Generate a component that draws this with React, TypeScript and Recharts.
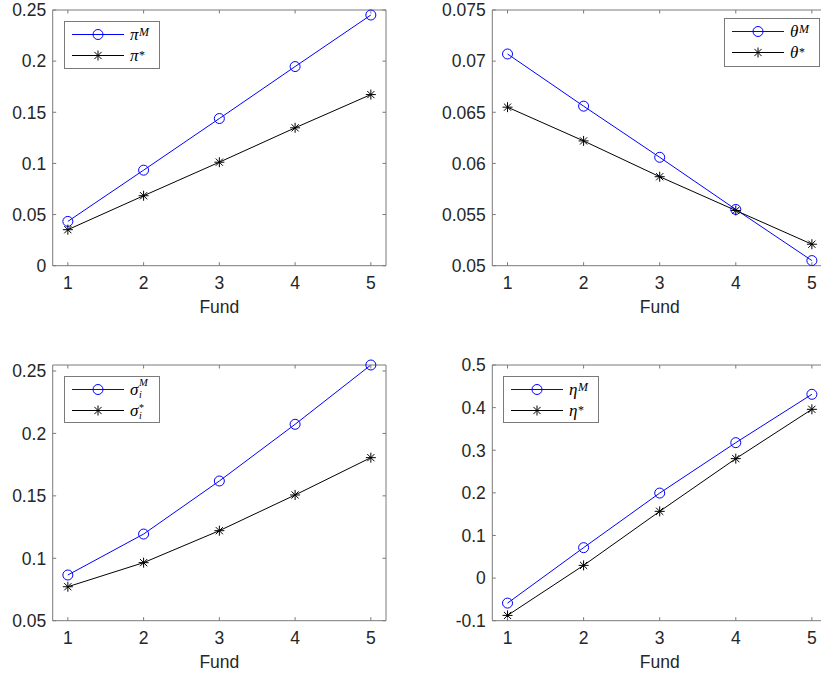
import React from 'react';
import { LineChart, Line, XAxis, YAxis, Legend, Label } from 'recharts';

// Fund index on the x axis
const funds = [1, 2, 3, 4, 5];
const fundTicks = [1, 2, 3, 4, 5];

// Investment proportion
const piM = [0.0433, 0.0934, 0.1439, 0.1947, 0.2451];
const piStar = [0.0352, 0.0684, 0.1012, 0.1348, 0.1673];
// Theta
const thetaM = [0.0707, 0.0656, 0.0606, 0.0555, 0.0505];
const thetaStar = [0.0655, 0.0622, 0.0587, 0.0554, 0.0521];
// Volatility
const sigmaM = [0.0866, 0.1194, 0.1619, 0.2073, 0.2548];
const sigmaStar = [0.0772, 0.0965, 0.1221, 0.1507, 0.1806];
// Eta
const etaM = [-0.0587, 0.0714, 0.1995, 0.3178, 0.4312];
const etaStar = [-0.0876, 0.0298, 0.1566, 0.2803, 0.396];

// Y tick values per panel
const piTicks = [0, 0.05, 0.1, 0.15, 0.2, 0.25];
const thetaTicks = [0.05, 0.055, 0.06, 0.065, 0.07, 0.075];
const sigmaTicks = [0.05, 0.1, 0.15, 0.2, 0.25];
const etaTicks = [-0.1, 0, 0.1, 0.2, 0.3, 0.4, 0.5];

const TEXT = '#262626';
const BOX = '#7a7a7a';
const BLUE = '#0000ff';
const BLACK = '#000000';
const FONT = '"Liberation Sans", Arial, Helvetica, sans-serif';
const SERIF = '"Liberation Serif", "DejaVu Serif", serif';
const FS = 17.5;
const TICK_LEN = 3.5;
// axes take 1px of room; margins below are reduced by that much
const AX = 1;

const fmt = (v: number) => String(parseFloat(Number(v).toFixed(4)));

const toRows = (m: number[], s: number[]) =>
  funds.map((f, i) => ({ fund: f, m: m[i], s: s[i] }));

function BottomTick(props: any) {
  const { x, y, payload } = props;
  return (
    <g>
      <line x1={x} x2={x} y1={y} y2={y - TICK_LEN} stroke={BOX} />
      <text x={x} y={y + 23} textAnchor="middle" fill={TEXT} fontSize={FS} fontFamily={FONT}>
        {fmt(payload.value)}
      </text>
    </g>
  );
}

function TopTick(props: any) {
  const { x, y } = props;
  return <line x1={x} x2={x} y1={y} y2={y + TICK_LEN} stroke={BOX} />;
}

function LeftTick(props: any) {
  const { x, y, payload } = props;
  return (
    <g>
      <line x1={x} x2={x + TICK_LEN} y1={y} y2={y} stroke={BOX} />
      <text x={x - 6.5} y={y} dy="0.36em" textAnchor="end" fill={TEXT} fontSize={FS} fontFamily={FONT}>
        {fmt(payload.value)}
      </text>
    </g>
  );
}

function RightTick(props: any) {
  const { x, y } = props;
  return <line x1={x} x2={x - TICK_LEN} y1={y} y2={y} stroke={BOX} />;
}

function CircleMark({ cx, cy }: { cx: number; cy: number }) {
  return <circle cx={cx} cy={cy} r={5} fill="none" stroke={BLUE} strokeWidth={1} />;
}

function StarMark({ cx, cy }: { cx: number; cy: number }) {
  const a = 5;
  const d = 3.6;
  return (
    <g stroke={BLACK} strokeWidth={1}>
      <line x1={cx - a} x2={cx + a} y1={cy} y2={cy} />
      <line x1={cx} x2={cx} y1={cy - a} y2={cy + a} />
      <line x1={cx - d} x2={cx + d} y1={cy - d} y2={cy + d} />
      <line x1={cx - d} x2={cx + d} y1={cy + d} y2={cy - d} />
    </g>
  );
}

const renderCircle = (p: any) => <CircleMark key={`c-${p.index}`} cx={p.cx} cy={p.cy} />;
const renderStar = (p: any) => <StarMark key={`s-${p.index}`} cx={p.cx} cy={p.cy} />;

// Legend math label: symbol with a superscript and an optional stacked subscript,
// written as one text element
function MathLabel({ x, y, symbol, sup, sub }: { x: number; y: number; symbol: string; sup: string; sub?: string }) {
  const w = 9;
  const isStar = sup === '*';
  const baseY = y + 5.5;
  let supY = y + (isStar ? 3 : 1);
  if (sub) supY = y + (isStar ? 0.5 : -3.5);
  let supSize = 12;
  if (sub) supSize = isStar ? 10 : 10.5;
  return (
    <text x={x} y={baseY} fill={BLACK} fontFamily={SERIF} fontSize={17} fontStyle="italic">
      {symbol}
      {sub ? (
        <tspan x={x + w} y={y + 8} fontSize={10}>
          {sub}
        </tspan>
      ) : null}
      <tspan x={x + w} y={supY} fontSize={supSize} fontStyle={isStar ? 'normal' : 'italic'}>
        {sup}
      </tspan>
    </text>
  );
}

function LegendBox({ w, h, symbol, sub }: { w: number; h: number; symbol: string; sub?: string }) {
  const rows = [
    { y: 13.5, color: BLUE, kind: 'circle', sup: 'M' },
    { y: 34.5, color: BLACK, kind: 'star', sup: '*' },
  ];
  return (
    <svg width={w} height={h} style={{ display: 'block' }}>
      <rect x={0.5} y={0.5} width={w - 1} height={h - 1} fill="#ffffff" stroke={BOX} />
      {rows.map((r) => (
        <g key={r.sup}>
          <line x1={8} x2={60} y1={r.y} y2={r.y} stroke={r.color} strokeWidth={1} />
          {r.kind === 'circle' ? <CircleMark cx={34} cy={r.y} /> : <StarMark cx={34} cy={r.y} />}
          <MathLabel x={66} y={r.y} symbol={symbol} sup={r.sup} sub={sub} />
        </g>
      ))}
    </svg>
  );
}

type PanelProps = {
  left: number;
  top: number;
  width: number;
  height: number;
  plot: { top: number; right: number; bottom: number; left: number };
  data: { fund: number; m: number; s: number }[];
  yDomain: [number, number];
  yTicks: number[];
  symbol: string;
  sub?: string;
  legend: { left: number; top: number; w: number; h: number };
};

function Panel(p: PanelProps) {
  const margin = {
    top: p.plot.top - AX,
    right: p.plot.right - AX,
    bottom: p.plot.bottom - AX,
    left: p.plot.left - AX,
  };
  return (
    <div style={{ position: 'absolute', left: p.left, top: p.top }}>
      <LineChart width={p.width} height={p.height} data={p.data} margin={margin}>
        <XAxis
          xAxisId="b"
          dataKey="fund"
          type="number"
          domain={[0.8, 5.2]}
          ticks={fundTicks}
          interval={0}
          height={AX}
          tickSize={0}
          tickMargin={0}
          tickLine={false}
          axisLine={{ stroke: BOX }}
          tick={BottomTick}
        >
          <Label value="Fund" position="bottom" offset={34} fill={TEXT} fontSize={FS} fontFamily={FONT} />
        </XAxis>
        <XAxis
          xAxisId="t"
          orientation="top"
          dataKey="fund"
          type="number"
          domain={[0.8, 5.2]}
          ticks={fundTicks}
          interval={0}
          height={AX}
          tickSize={0}
          tickMargin={0}
          tickLine={false}
          axisLine={{ stroke: BOX }}
          tick={TopTick}
          allowDataOverflow
        />
        <YAxis
          yAxisId="l"
          type="number"
          domain={p.yDomain}
          ticks={p.yTicks}
          interval={0}
          width={AX}
          tickSize={0}
          tickMargin={0}
          tickLine={false}
          axisLine={{ stroke: BOX }}
          tick={LeftTick}
        />
        <YAxis
          yAxisId="r"
          orientation="right"
          dataKey="m"
          type="number"
          domain={p.yDomain}
          ticks={p.yTicks}
          interval={0}
          width={AX}
          tickSize={0}
          tickMargin={0}
          tickLine={false}
          axisLine={{ stroke: BOX }}
          tick={RightTick}
          allowDataOverflow
        />
        <Line
          xAxisId="b"
          yAxisId="l"
          type="linear"
          dataKey="m"
          stroke={BLUE}
          strokeWidth={1}
          dot={renderCircle}
          activeDot={false}
          isAnimationActive={false}
        />
        <Line
          xAxisId="b"
          yAxisId="l"
          type="linear"
          dataKey="s"
          stroke={BLACK}
          strokeWidth={1}
          dot={renderStar}
          activeDot={false}
          isAnimationActive={false}
        />
        <Legend
          layout="vertical"
          align="center"
          verticalAlign="middle"
          wrapperStyle={{ left: p.legend.left, top: p.legend.top, width: p.legend.w, height: p.legend.h }}
          content={() => <LegendBox w={p.legend.w} h={p.legend.h} symbol={p.symbol} sub={p.sub} />}
        />
      </LineChart>
    </div>
  );
}

export default function App() {
  return (
    <div
      style={{
        position: 'absolute',
        left: 0,
        top: 0,
        width: 821,
        height: 677,
        overflow: 'hidden',
        background: '#ffffff',
      }}
    >
      <Panel
        left={0}
        top={0}
        width={410}
        height={340}
        plot={{ top: 10, left: 52.7, right: 24, bottom: 74.3 }}
        data={toRows(piM, piStar)}
        yDomain={[0, 0.25]}
        yTicks={piTicks}
        symbol="π"
        legend={{ left: 64, top: 21, w: 96, h: 48 }}
      />
      <Panel
        left={420}
        top={0}
        width={420}
        height={340}
        plot={{ top: 10, left: 72.3, right: 12.9, bottom: 74.3 }}
        data={toRows(thetaM, thetaStar)}
        yDomain={[0.05, 0.075]}
        yTicks={thetaTicks}
        symbol="θ"
        legend={{ left: 304, top: 18, w: 96, h: 49 }}
      />
      <Panel
        left={0}
        top={345}
        width={410}
        height={332}
        plot={{ top: 20, left: 52.7, right: 24, bottom: 56.3 }}
        data={toRows(sigmaM, sigmaStar)}
        yDomain={[0.05, 0.2548]}
        yTicks={sigmaTicks}
        symbol="σ"
        sub="i"
        legend={{ left: 64, top: 31, w: 96, h: 47 }}
      />
      <Panel
        left={420}
        top={345}
        width={420}
        height={332}
        plot={{ top: 20, left: 72.3, right: 12.9, bottom: 56.3 }}
        data={toRows(etaM, etaStar)}
        yDomain={[-0.1, 0.5]}
        yTicks={etaTicks}
        symbol="η"
        legend={{ left: 83, top: 31, w: 96, h: 47 }}
      />
    </div>
  );
}
